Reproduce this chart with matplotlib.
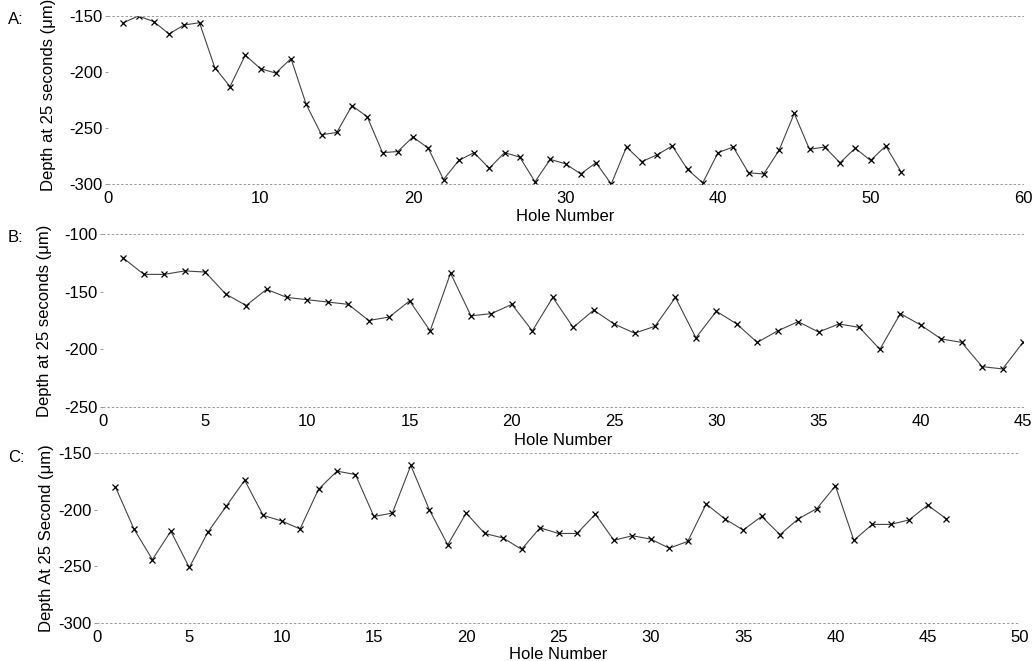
import matplotlib
matplotlib.use("Agg")
import matplotlib.pyplot as plt

plt.rcParams['font.family'] = ['Liberation Sans', 'DejaVu Sans']
plt.rcParams['axes.unicode_minus'] = False

# depth readings, one per hole
holes_a = list(range(1, 53))
depth_a = [-156, -150, -155, -166, -158, -156, -196, -213, -185, -197,
           -201, -188, -229, -256, -254, -230, -240, -272, -271, -258,
           -268, -296, -279, -272, -286, -272, -276, -298, -278, -282,
           -291, -281, -300, -267, -280, -274, -266, -287, -299, -272,
           -267, -290, -291, -270, -237, -269, -267, -281, -268, -279,
           -266, -289]

holes_b = list(range(1, 46))
depth_b = [-121, -135, -135, -132, -133, -152, -162, -148, -155, -157,
           -159, -161, -175, -172, -158, -184, -134, -171, -169, -161,
           -184, -155, -181, -166, -178, -186, -180, -155, -190, -167,
           -178, -194, -184, -176, -185, -178, -181, -200, -169, -179,
           -191, -194, -215, -217, -194]

holes_c = list(range(1, 47))
depth_c = [-180, -217, -244, -219, -251, -220, -197, -174, -205, -210,
           -217, -182, -166, -169, -206, -203, -161, -200, -231, -203,
           -221, -225, -235, -216, -221, -221, -204, -227, -223, -226,
           -234, -228, -195, -208, -218, -206, -222, -208, -199, -179,
           -227, -213, -213, -209, -196, -208]

panels = [
    dict(tag="A:", x=holes_a, y=depth_a, xlim=(0, 60), xticks=range(0, 61, 10),
         ylim=(-300, -150), yticks=[-150, -200, -250, -300],
         ylabel="Depth at 25 seconds (\u03bcm)",
         rect=[108/1036, 1-184/661, 915/1036, 168/661],
         ylx=-0.057, yly=0.53, xly=-0.15),
    dict(tag="B:", x=holes_b, y=depth_b, xlim=(0, 45), xticks=range(0, 46, 5),
         ylim=(-250, -100), yticks=[-100, -150, -200, -250],
         ylabel="Depth at 25 seconds (\u03bcm)",
         rect=[103/1036, 1-407/661, 920/1036, 173/661],
         ylx=-0.055, yly=0.5, xly=-0.15),
    dict(tag="C:", x=holes_c, y=depth_c, xlim=(0, 50), xticks=range(0, 51, 5),
         ylim=(-300, -150), yticks=[-150, -200, -250, -300],
         ylabel="Depth At 25 Second (\u03bcm)",
         rect=[97/1036, 1-623/661, 923/1036, 170/661],
         ylx=-0.047, yly=0.5, xly=-0.14),
]

fig = plt.figure(figsize=(10.36, 6.61), dpi=100)

for p in panels:
    ax = fig.add_axes(p["rect"])
    ax.plot(p["x"], p["y"], color="#444444", lw=0.8, marker="x",
            markersize=5, markeredgewidth=0.9, markeredgecolor="black")
    ax.set_xlim(*p["xlim"])
    ax.set_ylim(*p["ylim"])
    ax.set_xticks(list(p["xticks"]))
    ax.set_yticks(p["yticks"])
    ax.tick_params(axis="x", length=0, pad=5, labelsize=12)
    ax.tick_params(axis="y", length=2, width=0.6, direction="out", pad=2,
                   labelsize=12, color="#888888")
    for side in ("left", "right"):
        ax.spines[side].set_visible(False)
    for side in ("top", "bottom"):
        ax.spines[side].set_linestyle((0, (1.5, 3)))
        ax.spines[side].set_color("#999999")
        ax.spines[side].set_linewidth(0.7)
    ax.set_ylabel(p["ylabel"], fontsize=12)
    ax.yaxis.set_label_coords(p["ylx"], p["yly"])
    ax.set_xlabel("Hole Number", fontsize=12)
    ax.xaxis.set_label_coords(0.5, p["xly"])
    fig.text(8/1036, p["rect"][1] + p["rect"][3] - 4/661, p["tag"],
             fontsize=12, va="center", ha="left")

fig.savefig("out.png", dpi=100)
